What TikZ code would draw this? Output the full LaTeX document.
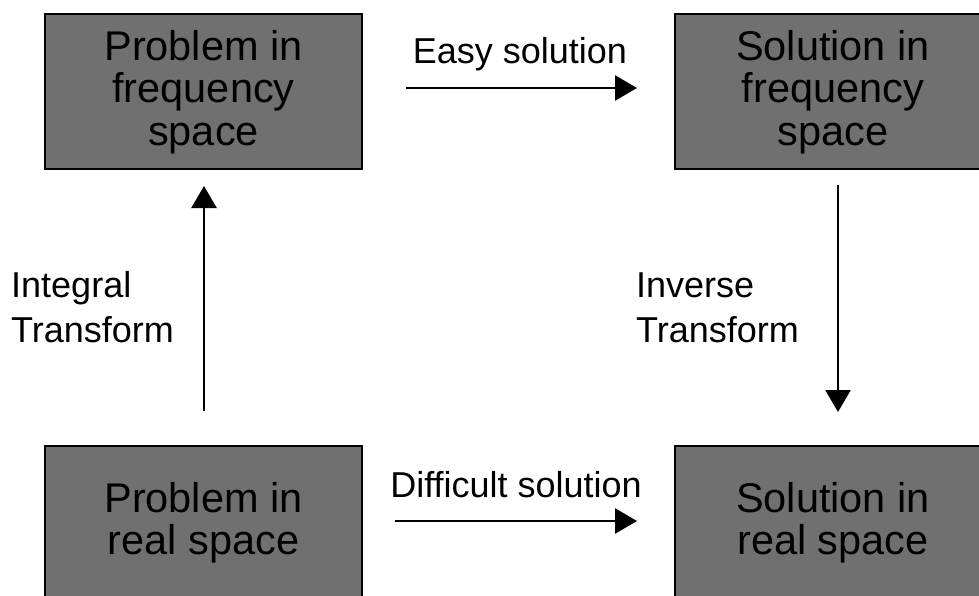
\documentclass[tikz,border=0pt]{standalone}
\usepackage{fontspec}
\setmainfont{Liberation Sans}
\usetikzlibrary{arrows.meta}
\definecolor{boxgray}{RGB}{112,112,112}
\begin{document}
\begin{tikzpicture}[x=1pt,y=-1pt,
  bigbox/.style={draw=black, line width=2pt, fill=boxgray, minimum width=317pt, minimum height=155pt, inner sep=0pt, align=center, font=\fontsize{41.5}{42.5}\selectfont},
  lbl/.style={inner sep=0pt, font=\fontsize{36}{45}\selectfont},
  conn/.style={line width=2.6pt, -{Triangle[length=22pt,width=25pt]}}]
\useasboundingbox (0,0) rectangle (979,596);
\fill[white] (0,0) rectangle (979,596);
\node[bigbox] (pf) at (203.5,92) {Problem in\\frequency\\space};
\node[bigbox] (sf) at (833,92) {Solution in\\frequency\\space};
\node[bigbox] (pr) at (203.5,523) {Problem in\\real space};
\node[bigbox] (sr) at (833,523) {Solution in\\real space};
\coordinate (a1s) at (406,88);
\coordinate (a1e) at (637,88);
\coordinate (a2s) at (395,521);
\coordinate (a2e) at (637,521);
\coordinate (a3s) at (204,411);
\coordinate (a3e) at (204,186);
\coordinate (a4s) at (838,185);
\coordinate (a4e) at (838,412);
\draw[conn] (a1s) -- (a1e);
\draw[conn] (a2s) -- (a2e);
\draw[conn] (a3s) -- (a3e);
\draw[conn] (a4s) -- (a4e);
\node[lbl, anchor=base] (easy) at (520,64) {Easy solution};
\node[lbl, anchor=base] (diff) at (516,497) {Difficult solution};
\node[lbl, anchor=base west, align=left] (intl) at (11,342) {Integral\\Transform};
\node[lbl, anchor=base west, align=left] (invl) at (636,342) {Inverse\\Transform};
\end{tikzpicture}
\end{document}
